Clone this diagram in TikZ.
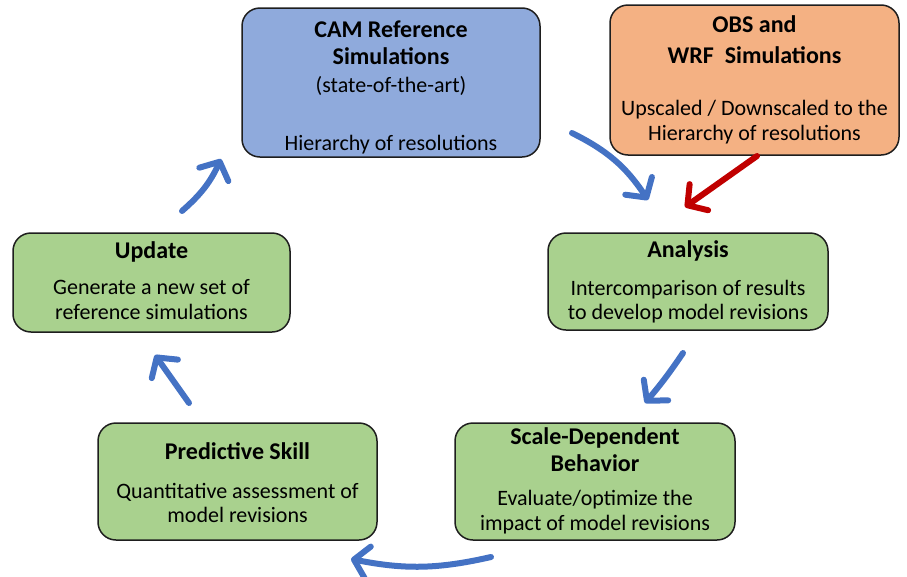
\documentclass[tikz,border=0pt]{standalone}
\usepackage{fontspec}
\setmainfont{Carlito}
\usetikzlibrary{arrows.meta}
\definecolor{boxblue}{HTML}{8FAADC}
\definecolor{boxorange}{HTML}{F4B183}
\definecolor{boxgreen}{HTML}{A9D18E}
\definecolor{arrblue}{HTML}{4472C4}
\definecolor{arrred}{HTML}{C00000}
\definecolor{edge}{HTML}{1E1E1E}
\tikzset{
  box/.style={draw=edge, line width=1.5pt, rounded corners=18pt, inner sep=0pt},
  ttl/.style={anchor=base, inner sep=0pt, font=\fontsize{24}{28}\selectfont\bfseries},
  txt/.style={anchor=base, inner sep=0pt, font=\fontsize{22}{26}\selectfont},
  flow/.style={draw=arrblue, line width=6pt, line cap=round, line join=round,
    -{Straight Barb[length=14pt, width=32pt, line cap=round, line join=round]}},
  redflow/.style={flow, draw=arrred},
}
\begin{document}
\begin{tikzpicture}[x=1pt, y=-1pt]
\useasboundingbox (0,0) rectangle (907,576);
% boxes
\node[box, fill=boxblue, minimum width=298pt, minimum height=149pt] (cam) at (391,82.5) {};
\node[box, fill=boxorange, minimum width=289pt, minimum height=150pt] (obs) at (754.5,80) {};
\node[box, fill=boxgreen, minimum width=277pt, minimum height=99pt] (upd) at (151.5,282.5) {};
\node[box, fill=boxgreen, minimum width=280pt, minimum height=97pt] (ana) at (688,281.5) {};
\node[box, fill=boxgreen, minimum width=280pt, minimum height=117pt] (sdb) at (595,481.5) {};
\node[box, fill=boxgreen, minimum width=279pt, minimum height=117pt] (pks) at (237.5,481.5) {};
% texts
\node[ttl] (cam1) at (391,37) {CAM Reference};
\node[ttl] (cam2) at (391,64) {Simulations};
\node[txt] (cam3) at (391,92) {(state-of-the-art)};
\node[txt] (cam4) at (391,150) {Hierarchy of resolutions};
\node[ttl] (obs1) at (754.5,32) {OBS and};
\node[ttl] (obs2) at (754.5,63) {WRF\ \ Simulations};
\node[txt] (obs3) at (754.5,115) {Upscaled / Downscaled to the};
\node[txt] (obs4) at (754.5,140) {Hierarchy of resolutions};
\node[ttl] (upd1) at (151.5,258) {Update};
\node[txt] (upd2) at (151.5,294) {Generate a new set of};
\node[txt] (upd3) at (151.5,319) {reference simulations};
\node[ttl] (ana1) at (688,257) {Analysis};
\node[txt] (ana2) at (688,295) {Intercomparison of results};
\node[txt] (ana3) at (688,319) {to develop model revisions};
\node[ttl] (sdb1) at (595,444) {Scale-Dependent};
\node[ttl] (sdb2) at (595,471) {Behavior};
\node[txt] (sdb3) at (595,505) {Evaluate/optimize the};
\node[txt] (sdb4) at (595,530) {impact of model revisions};
\node[ttl] (pks1) at (237.5,459) {Predictive Skill};
\node[txt] (pks2) at (237.5,498) {Quantitative assessment of};
\node[txt] (pks3) at (237.5,522) {model revisions};
% arrow ends
\coordinate (a1s) at (182,211);
\coordinate (a1e) at (221,159);
\coordinate (a2s) at (572,133);
\coordinate (a2e) at (648,200);
\coordinate (a3s) at (757,156);
\coordinate (a3e) at (685,207);
\coordinate (a4s) at (683,353);
\coordinate (a4e) at (645,403);
\coordinate (a5s) at (491,557);
\coordinate (a5e) at (351,559);
\coordinate (a6s) at (189,403);
\coordinate (a6e) at (155,355);
% arrows
\draw[flow] (a1s) to[bend right=12] (a1e);
\draw[flow] (a2s) to[bend left=15] (a2e);
\draw[redflow] (a3s) -- (a3e);
\draw[flow] (a4s) to[bend left=3] (a4e);
\draw[flow] (a5s) to[bend left=12] (a5e);
\draw[flow] (a6s) -- (a6e);
\end{tikzpicture}
\end{document}
